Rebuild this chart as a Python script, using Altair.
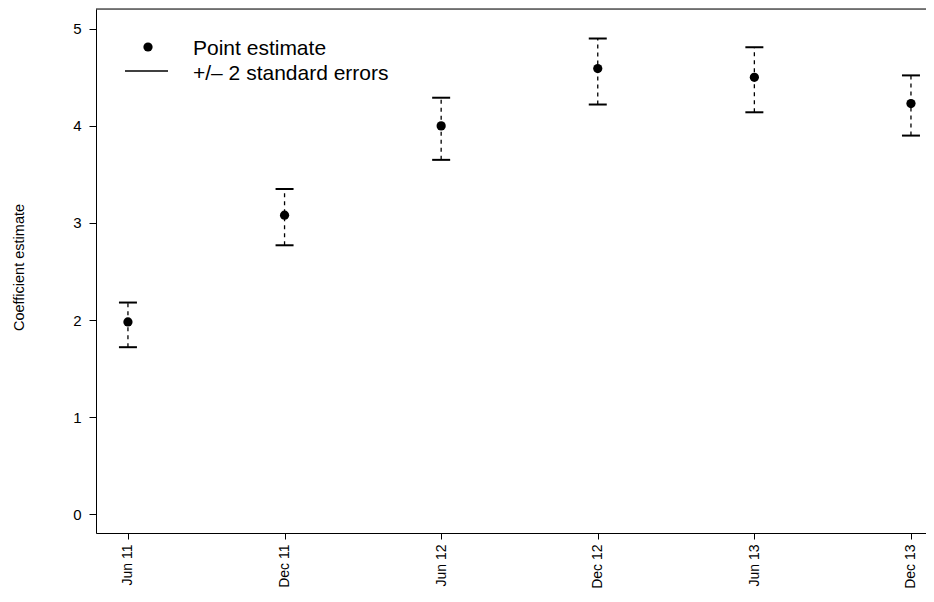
import altair as alt
import pandas as pd

labels = ["Jun 11", "Dec 11", "Jun 12", "Dec 12", "Jun 13", "Dec 13"]
estimate = [1.98, 3.08, 4.00, 4.59, 4.50, 4.23]
upper = [2.18, 3.35, 4.29, 4.90, 4.81, 4.52]
lower = [1.72, 2.77, 3.65, 4.22, 4.14, 3.90]

legend_text = ["Point estimate", "+/\u2013 2 standard errors"]

df = pd.DataFrame({"idx": list(range(len(labels))), "label": labels,
                   "est": estimate, "hi": upper, "lo": lower})

W, H = 830, 524
FONT = "Liberation Sans"

label_arr = "[" + ",".join("'" + l + "'" for l in labels) + "]"
yscale = alt.Scale(domain=[-0.194, 5.204], nice=False, zero=False)
xscale = alt.Scale(domain=[-0.204, 5.096], nice=False, zero=False)

x = alt.X("idx:Q", scale=xscale,
          axis=alt.Axis(values=list(range(len(labels))), labelExpr=label_arr + "[datum.value]",
                        labelAngle=-90, labelAlign="right", labelBaseline="middle",
                        labelFontSize=14, labelPadding=5, tickSize=6,
                        title=None))
y_axis = alt.Axis(values=[0, 1, 2, 3, 4, 5], format="d", labelFontSize=15,
                  labelPadding=8, tickSize=7,
                  title="Coefficient estimate", titleAngle=-90,
                  titleX=-77, titleY=258, titleAlign="center", titleBaseline="middle")

base = alt.Chart(df)

bars = base.mark_rule(color="black", strokeDash=[4, 4], strokeWidth=1.3).encode(
    x=x, y=alt.Y("lo:Q", scale=yscale, axis=y_axis), y2="hi:Q")
caps_hi = base.mark_tick(color="black", opacity=1, orient="horizontal", size=18, thickness=2).encode(
    x=x, y=alt.Y("hi:Q", scale=yscale, axis=y_axis))
caps_lo = base.mark_tick(color="black", opacity=1, orient="horizontal", size=18, thickness=2).encode(
    x=x, y=alt.Y("lo:Q", scale=yscale, axis=y_axis))
pts = base.mark_circle(color="black", opacity=1, size=85).encode(
    x=x, y=alt.Y("est:Q", scale=yscale, axis=y_axis))

top_line = alt.Chart(pd.DataFrame({"a": [0]})).mark_rule(color="black", strokeWidth=1).encode(
    x=alt.value(0), x2=alt.value(W), y=alt.value(0))

leg_df = pd.DataFrame({"t": legend_text, "ty": [46, 71]})
leg_text = alt.Chart(leg_df).mark_text(align="left", baseline="alphabetic", fontSize=21,
                                        font=FONT, color="black").encode(
    text="t:N", x=alt.value(97), y=alt.Y("ty:Q", scale=None))
leg_dot = alt.Chart(pd.DataFrame({"a": [0]})).mark_circle(color="black", opacity=1, size=85).encode(
    x=alt.value(52), y=alt.value(38))
leg_line = alt.Chart(pd.DataFrame({"a": [0]})).mark_rule(color="black", strokeWidth=1.3).encode(
    x=alt.value(29), x2=alt.value(72), y=alt.value(62))

chart = alt.layer(bars, caps_hi, caps_lo, pts, top_line, leg_dot, leg_line, leg_text).properties(
    width=W, height=H,
    autosize=alt.AutoSizeParams(type="none"),
    padding={"left": 88, "top": 1, "right": 0, "bottom": 56},
).configure_view(stroke=None).configure(background="white").configure_axis(
    labelFont=FONT, labelColor="black",
    tickColor="black", domainColor="black", grid=False,
    titleFontSize=14.5, titleFont=FONT, titleFontWeight="normal", titleColor="black")

chart.save("out.html", embed_options={"renderer": "svg", "actions": False})
